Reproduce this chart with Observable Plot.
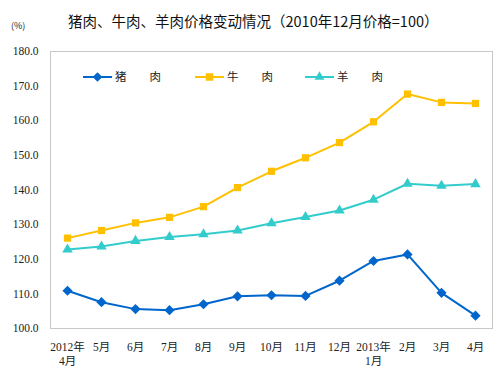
<!DOCTYPE html>
<html><head><meta charset="utf-8">
<script src="https://cdn.jsdelivr.net/npm/d3@7"></script>
<script src="https://cdn.jsdelivr.net/npm/@observablehq/plot@0.6"></script>
<style>
body{margin:0;background:#fff;}
#wrap{position:relative;width:500px;height:371px;font-family:"Liberation Serif","Noto Sans CJK SC",serif;}
#title{position:absolute;left:68px;top:10px;font-size:14.5px;font-family:"Noto Sans CJK SC",sans-serif;color:#111;white-space:nowrap;}
#unit{position:absolute;left:11px;top:19px;font-size:9px;color:#222;font-family:"Noto Sans CJK SC",sans-serif;}
#legend{position:absolute;left:0;top:0;}
</style></head>
<body><div id="wrap"><div id="title">猪肉、牛肉、羊肉价格变动情况（2010年12月价格=100）</div><div id="unit">(%)</div></div>
<script>
const months = ["2012年\n4月","5月","6月","7月","8月","9月","10月","11月","12月","2013年\n1月","2月","3月","4月"];
const seriesNames = ["猪　　肉","牛　　肉","羊　　肉"];
const pork   = [110.9,107.6,105.6,105.3,107.0,109.3,109.6,109.4,113.8,119.5,121.4,110.3,103.7];
const beef   = [126.1,128.3,130.5,132.1,135.2,140.7,145.4,149.3,153.7,159.7,167.7,165.3,165.0];
const mutton = [122.8,123.7,125.3,126.4,127.2,128.3,130.4,132.2,134.1,137.2,141.8,141.2,141.7];
const yTicks = [100,110,120,130,140,150,160,170,180];

const colors = ["#0066CC","#FFC000","#33CCCC"];
const symbols = ["diamond2","square2","triangle2"];
const rs = [4.6,4.6,5];
const all = [pork,beef,mutton];
const data = [];
all.forEach((vals,si)=>vals.forEach((v,i)=>data.push({m:months[i],v,s:seriesNames[si]})));

const marks = [
  Plot.frame({stroke:"#c8c8c8"}),
  Plot.axisY({ticks:yTicks,tickFormat:d=>d.toFixed(1),tickSize:0,tickPadding:12,fontSize:11.5,label:null}),
  Plot.axisX({tickSize:0,tickPadding:12,lineHeight:1.25,fontSize:11.5,label:null})
];
all.forEach((vals,si)=>{
  const d = data.filter(e=>e.s===seriesNames[si]);
  marks.push(Plot.line(d,{x:"m",y:"v",stroke:colors[si],strokeWidth:2}));
  marks.push(Plot.dot(d,{x:"m",y:"v",fill:colors[si],symbol:()=>symbols[si],r:rs[si]}));
});

const chart = Plot.plot({
  width:500,height:371,
  marginLeft:50,marginRight:8,marginTop:51,marginBottom:43,
  style:{fontFamily:"'Liberation Serif','Noto Sans CJK SC',serif",fontSize:"11px",color:"#222",background:"#fff"},
  x:{type:"point",domain:months,padding:0.5},
  y:{domain:[100,180]},
  symbol:{type:"identity"},
  marks
});
const wrap = document.getElementById("wrap");
wrap.insertBefore(chart, wrap.firstChild);

// legend
const ns="http://www.w3.org/2000/svg";
const lg=document.createElementNS(ns,"svg");
lg.setAttribute("id","legend");lg.setAttribute("width",500);lg.setAttribute("height",100);
const lx=[83,195,305];
const symPath=[d3.symbol(d3.symbolDiamond2,60)(),d3.symbol(d3.symbolSquare2,70)(),d3.symbol(d3.symbolTriangle2,70)()];
seriesNames.forEach((n,i)=>{
  const y=77;
  const l=document.createElementNS(ns,"line");
  l.setAttribute("x1",lx[i]);l.setAttribute("x2",lx[i]+29);l.setAttribute("y1",y);l.setAttribute("y2",y);
  l.setAttribute("stroke",colors[i]);l.setAttribute("stroke-width",2);lg.appendChild(l);
  const p=document.createElementNS(ns,"path");p.setAttribute("d",symPath[i]);
  p.setAttribute("transform",`translate(${lx[i]+14.5},${y})`);p.setAttribute("fill",colors[i]);lg.appendChild(p);
  const t=document.createElementNS(ns,"text");t.setAttribute("x",lx[i]+32);t.setAttribute("y",y+4);
  t.setAttribute("font-size","11.5");t.setAttribute("font-family","Noto Sans CJK SC");t.setAttribute("fill","#222");
  t.textContent=n;lg.appendChild(t);
});
wrap.appendChild(lg);
</script></body></html>
